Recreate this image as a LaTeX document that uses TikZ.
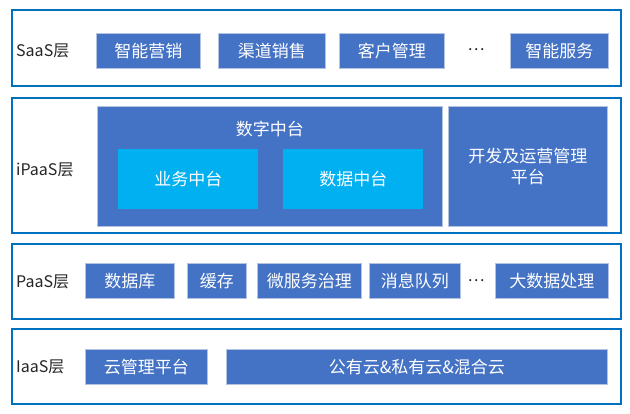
\documentclass[tikz,border=0pt]{standalone}
\usepackage{fontspec}
\setmainfont{Noto Sans CJK SC}
\usetikzlibrary{positioning}
\definecolor{LayerBlue}{HTML}{0070C0}
\definecolor{BoxBlue}{HTML}{4472C4}
\definecolor{BoxCyan}{HTML}{00B0F0}
\definecolor{BoxEdge}{HTML}{B4C3E2}
\definecolor{LabelGray}{HTML}{262626}

\begin{document}
\begin{tikzpicture}[x=1pt,y=-1pt,
    layer/.style={draw=LayerBlue, line width=2.4pt, fill=white, anchor=north west, inner sep=0pt, minimum width=609pt},
    svcbox/.style={draw=BoxEdge, line width=0.8pt, fill=BoxBlue, text=white, anchor=north west, inner sep=0pt, align=center, font=\fontsize{17}{21}\selectfont},
    corebox/.style={svcbox, fill=BoxCyan, draw=none},
    layerlabel/.style={anchor=west, inner sep=0pt, text=LabelGray, font=\fontsize{16}{19}\selectfont},
    gap/.style={inner sep=0pt, text=LabelGray, font=\fontsize{16}{19}\selectfont}]
  \useasboundingbox (0,0) rectangle (630,414);
  % layers
  \node[layer, minimum height=76pt] (saas) at (11,9) {};
  \node[layer, minimum height=135pt] (ipaas) at (11,97) {};
  \node[layer, minimum height=75pt] (paas) at (11,243) {};
  \node[layer, minimum height=75pt] (iaas) at (11,328) {};
  \node[layerlabel] (saasl) at (16,51) {SaaS层};
  \node[layerlabel] (ipaasl) at (16,170) {iPaaS层};
  \node[layerlabel] (paasl) at (16,282) {PaaS层};
  \node[layerlabel] (iaasl) at (16,367) {IaaS层};
  % SaaS
  \node[svcbox, minimum width=104pt, minimum height=35pt] (mkt) at (96,33) {智能营销};
  \node[svcbox, minimum width=107pt, minimum height=35pt] (chan) at (218,33) {渠道销售};
  \node[svcbox, minimum width=105pt, minimum height=35pt] (cust) at (339,33) {客户管理};
  \node[gap] (dotsa) at (476,50) {…};
  \node[svcbox, minimum width=98pt, minimum height=35pt] (svc) at (510,33) {智能服务};
  % iPaaS
  \node[svcbox, minimum width=345pt, minimum height=120pt] (digital) at (97,106) {};
  \node[text=white, font=\fontsize{17}{21}\selectfont, below=12pt of digital.north] (dtitle) {数字中台};
  \node[corebox, minimum width=140pt, minimum height=60pt] (biz) at (118,149) {业务中台};
  \node[corebox, minimum width=140pt, minimum height=60pt] (data) at (283,149) {数据中台};
  \node[svcbox, minimum width=159pt, minimum height=120pt] (devops) at (448,106) {开发及运营管理\\平台};
  % PaaS
  \node[svcbox, minimum width=89pt, minimum height=35pt] (db) at (85,263) {数据库};
  \node[svcbox, minimum width=59pt, minimum height=35pt] (cache) at (187,263) {缓存};
  \node[svcbox, minimum width=104pt, minimum height=35pt] (micro) at (257,263) {微服务治理};
  \node[svcbox, minimum width=91pt, minimum height=35pt] (mq) at (369,263) {消息队列};
  \node[gap] (dotsb) at (476,281) {…};
  \node[svcbox, minimum width=113pt, minimum height=35pt] (bigdata) at (495,263) {大数据处理};
  % IaaS
  \node[svcbox, minimum width=122pt, minimum height=35pt] (cloudmgmt) at (85,349) {云管理平台};
  \node[svcbox, minimum width=381pt, minimum height=35pt] (clouds) at (226,349) {公有云\&私有云\&混合云};
\end{tikzpicture}
\end{document}
